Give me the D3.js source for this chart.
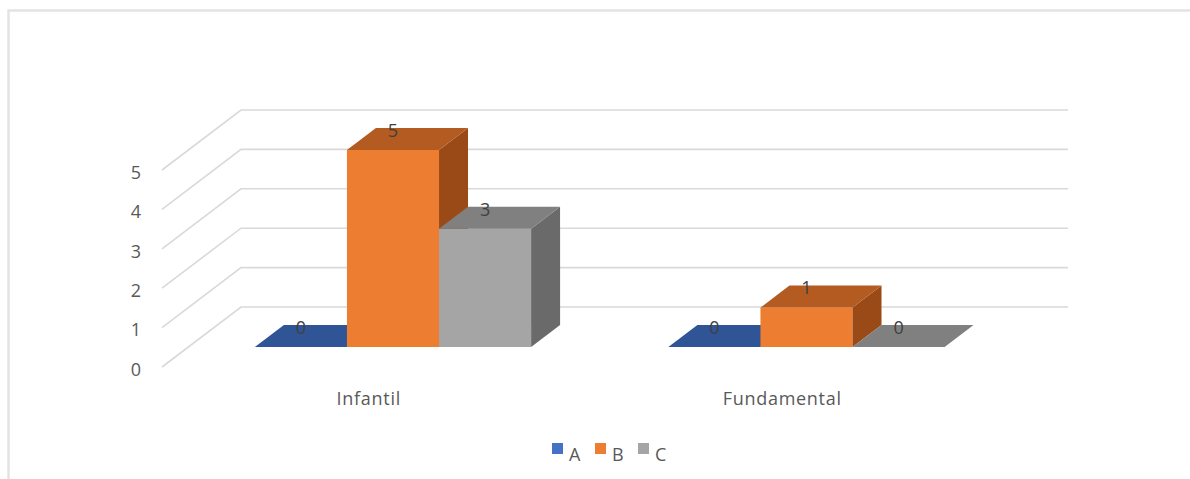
<!DOCTYPE html>
<html>
<head>
<meta charset="utf-8">
<script src="https://cdn.jsdelivr.net/npm/d3@7"></script>
<style>
  html, body { margin: 0; padding: 0; background: #ffffff; }
  svg { display: block; }
  text { font-family: "Open Sans", "Liberation Sans", sans-serif; }
</style>
</head>
<body>
<svg id="chart" width="1190" height="479"></svg>
<script>
// Data
const categories = ["Infantil", "Fundamental"];
const seriesNames = ["A", "B", "C"];
const valuesA = [0, 0];
const valuesB = [5, 1];
const valuesC = [3, 0];
const yTicks = [0, 1, 2, 3, 4, 5];

const seriesValues = [valuesA, valuesB, valuesC];

// Colours per series: front, top, side
const faceColors = {
  A: { front: "#4472C4", top: "#2F5597", side: "#264478" },
  B: { front: "#ED7D31", top: "#B35B21", side: "#9A4A16" },
  C: { front: "#A5A5A5", top: "#808080", side: "#6A6A6A" }
};

const svg = d3.select("#chart");

// Outer frame
svg.append("rect")
  .attr("x", 8.5).attr("y", 10.5)
  .attr("width", 1200).attr("height", 500)
  .attr("fill", "none")
  .attr("stroke", "#e3e3e3")
  .attr("stroke-width", 2.5);

// Oblique 3D projection: front plane x, value, depth z in [0,1]
const depthDX = 79, depthDY = -60;
const y = d3.scaleLinear().domain([0, 5]).range([367, 170]);
const x0 = d3.scaleBand().domain(categories).range([162, 989]).padding(0);
const bw = x0.bandwidth();
const x1 = d3.scaleBand().domain(seriesNames).range([bw * 0.161, bw * 0.829]).padding(0);

const proj = (px, v, z) => [px + depthDX * z, y(v) + depthDY * z];

const zFront = 0.333, zBack = 0.7;

// Grid: back wall and left side wall
const gridG = svg.append("g");
const xLeft = x0.range()[0], xRight = x0.range()[1];
yTicks.forEach(v => {
  const a = proj(xLeft, v, 0), b = proj(xLeft, v, 1), c = proj(xRight, v, 1);
  gridG.append("polyline")
    .attr("points", [a, b, c].map(p => p.join(",")).join(" "))
    .attr("fill", "none")
    .attr("stroke", "#d9d9d9")
    .attr("stroke-width", 1.6);
});

// Y axis labels
svg.append("g").selectAll("text")
  .data(yTicks)
  .join("text")
  .attr("x", 141)
  .attr("y", d => y(d) + 4)
  .attr("text-anchor", "end")
  .attr("dominant-baseline", "middle")
  .attr("font-size", 18)
  .attr("fill", "#595959")
  .text(d => d);

// Bars
const poly = pts => pts.map(p => p.join(",")).join(" ");
const barsG = svg.append("g");
const labelsG = svg.append("g");

categories.forEach((cat, ci) => {
  seriesNames.forEach((s, si) => {
    const v = seriesValues[si][ci];
    const xl = x0(cat) + x1(s);
    const xr = xl + x1.bandwidth();
    const col = faceColors[s];
    const g = barsG.append("g");
    if (v > 0) {
      // front
      g.append("polygon")
        .attr("points", poly([proj(xl, 0, zFront), proj(xr, 0, zFront), proj(xr, v, zFront), proj(xl, v, zFront)]))
        .attr("fill", col.front);
      // side
      g.append("polygon")
        .attr("points", poly([proj(xr, 0, zFront), proj(xr, 0, zBack), proj(xr, v, zBack), proj(xr, v, zFront)]))
        .attr("fill", col.side);
    }
    // top
    g.append("polygon")
      .attr("points", poly([proj(xl, v, zFront), proj(xr, v, zFront), proj(xr, v, zBack), proj(xl, v, zBack)]))
      .attr("fill", col.top);

    const fc = proj((xl + xr) / 2, v, zFront);
    labelsG.append("text")
      .attr("x", fc[0])
      .attr("y", fc[1] - 18)
      .attr("text-anchor", "middle")
      .attr("dominant-baseline", "middle")
      .attr("font-size", 18)
      .attr("fill", "#404040")
      .text(v);
  });
});

// Category labels
svg.append("g").selectAll("text")
  .data(categories)
  .join("text")
  .attr("x", d => x0(d) + bw / 2)
  .attr("y", 405)
  .attr("text-anchor", "middle")
  .attr("font-size", 18)
  .attr("letter-spacing", 0.7)
  .attr("fill", "#595959")
  .text(d => d);

// Legend
const legendX = [552, 595, 638];
const legendG = svg.append("g");
seriesNames.forEach((s, i) => {
  legendG.append("rect")
    .attr("x", legendX[i]).attr("y", 443)
    .attr("width", 11).attr("height", 11)
    .attr("fill", faceColors[s].front);
  legendG.append("text")
    .attr("x", legendX[i] + 17)
    .attr("y", 461)
    .attr("font-size", 18)
    .attr("fill", "#595959")
    .text(s);
});
</script>
</body>
</html>
